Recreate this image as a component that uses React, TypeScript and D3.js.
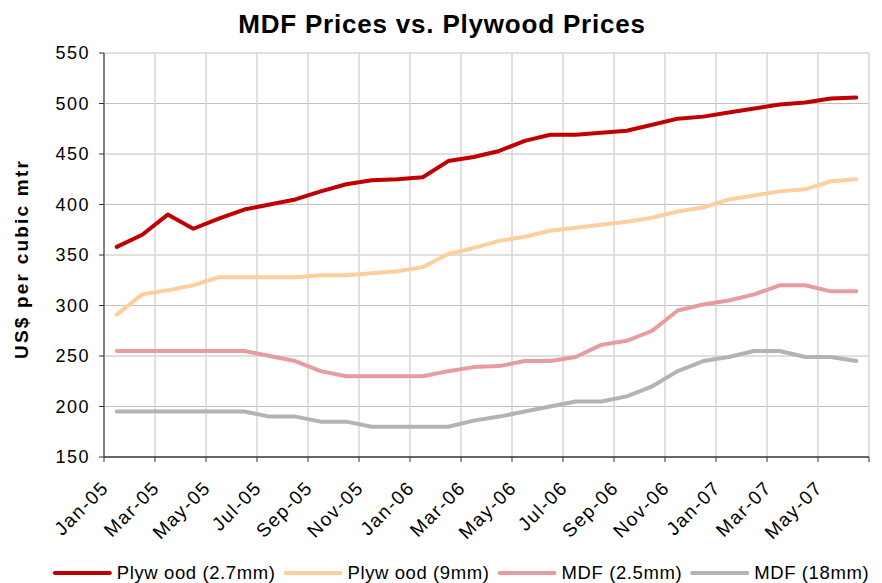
import React, { useEffect, useRef } from "react";
import * as d3 from "d3";

// monthly prices, US$ per cubic metre
const months = [
  "Jan-05", "Feb-05", "Mar-05", "Apr-05", "May-05", "Jun-05", "Jul-05", "Aug-05", "Sep-05", "Oct-05", "Nov-05", "Dec-05",
  "Jan-06", "Feb-06", "Mar-06", "Apr-06", "May-06", "Jun-06", "Jul-06", "Aug-06", "Sep-06", "Oct-06", "Nov-06", "Dec-06",
  "Jan-07", "Feb-07", "Mar-07", "Apr-07", "May-07", "Jun-07",
];
const plywood27 = [358, 370, 390, 376, 386, 395, 400, 405, 413, 420, 424, 425, 427, 443, 447, 453, 463, 469, 469, 471, 473, 479, 485, 487, 491, 495, 499, 501, 505, 506];
const plywood9 = [291, 311, 315, 320, 328, 328, 328, 328, 330, 330, 332, 334, 338, 351, 357, 364, 368, 374, 377, 380, 383, 387, 393, 397, 405, 409, 413, 415, 423, 425];
const mdf25 = [255, 255, 255, 255, 255, 255, 250, 245, 235, 230, 230, 230, 230, 235, 239, 240, 245, 245, 249, 261, 265, 275, 295, 301, 305, 311, 320, 320, 314, 314];
const mdf18 = [195, 195, 195, 195, 195, 195, 190, 190, 185, 185, 180, 180, 180, 180, 186, 190, 195, 200, 205, 205, 210, 220, 235, 245, 249, 255, 255, 249, 249, 245];
const yTicks = [150, 200, 250, 300, 350, 400, 450, 500, 550];

const seriesNames = ["Plyw ood (2.7mm)", "Plyw ood (9mm)", "MDF (2.5mm)", "MDF (18mm)"];
const seriesColors = ["#C00000", "#FCCF9F", "#E89C9F", "#B3B3B3"];
const seriesValues = [plywood27, plywood9, mdf25, mdf18];

const W = 882;
const H = 583;
const FONT = "'Liberation Sans', Arial, sans-serif";

const App = () => {
  const ref = useRef<SVGSVGElement>(null);

  useEffect(() => {
    const svg = d3.select(ref.current);
    svg.selectAll("*").remove();

    const left = 104, right = 869, top = 53, bottom = 457;

    const x = d3.scaleBand<string>().domain(months).range([left, right]).padding(0);
    const y = d3.scaleLinear().domain([150, 550]).range([bottom, top]);
    const cx = (m: string) => (x(m) as number) + x.bandwidth() / 2;

    // every second category boundary gets a grid line / tick
    const bounds = months.map((m) => x(m) as number).filter((_, i) => i % 2 === 0);
    bounds.push(right);

    const g = svg.append("g");

    // horizontal grid
    g.selectAll(".hgrid")
      .data(yTicks.filter((t) => t > 150))
      .join("line")
      .attr("x1", left).attr("x2", right)
      .attr("y1", (d) => y(d)).attr("y2", (d) => y(d))
      .attr("stroke", "#C0C0C0").attr("stroke-width", 1);

    // vertical grid
    g.selectAll(".vgrid")
      .data(bounds.slice(1))
      .join("line")
      .attr("x1", (d) => d).attr("x2", (d) => d)
      .attr("y1", top).attr("y2", bottom)
      .attr("stroke", "#D6D6D6").attr("stroke-width", 1.5);

    // y axis
    g.append("line")
      .attr("x1", left).attr("x2", left).attr("y1", top).attr("y2", bottom)
      .attr("stroke", "#808080").attr("stroke-width", 2);
    g.selectAll(".ytick")
      .data(yTicks)
      .join("line")
      .attr("x1", left - 5).attr("x2", left)
      .attr("y1", (d) => y(d)).attr("y2", (d) => y(d))
      .attr("stroke", "#333").attr("stroke-width", 1);
    g.selectAll(".ylab")
      .data(yTicks)
      .join("text")
      .attr("x", 90).attr("y", (d) => y(d))
      .attr("dy", "0.35em")
      .attr("text-anchor", "end")
      .attr("font-family", FONT).attr("font-size", 18)
      .attr("letter-spacing", 1.5)
      .attr("fill", "#000")
      .text((d) => d);

    // x axis
    g.append("line")
      .attr("x1", left).attr("x2", right).attr("y1", bottom).attr("y2", bottom)
      .attr("stroke", "#333").attr("stroke-width", 1.5);
    g.selectAll(".xtick")
      .data(bounds)
      .join("line")
      .attr("x1", (d) => d).attr("x2", (d) => d)
      .attr("y1", bottom).attr("y2", bottom + 5)
      .attr("stroke", "#333").attr("stroke-width", 1);
    g.selectAll(".xlab")
      .data(months.filter((_, i) => i % 2 === 0))
      .join("text")
      .attr("transform", (d) => `translate(${cx(d) - 7},${bottom + 32}) rotate(-45)`)
      .attr("text-anchor", "end")
      .attr("font-family", FONT).attr("font-size", 19)
      .attr("letter-spacing", 1.5)
      .attr("fill", "#000")
      .text((d) => d);

    // series
    const line = d3.line<number>()
      .x((_, i) => cx(months[i]))
      .y((d) => y(d));
    seriesValues.forEach((vals, k) => {
      g.append("path")
        .datum(vals)
        .attr("fill", "none")
        .attr("stroke", seriesColors[k])
        .attr("stroke-width", 4)
        .attr("stroke-linejoin", "round")
        .attr("stroke-linecap", "round")
        .attr("d", line);
    });

    // title
    svg.append("text")
      .attr("x", 442).attr("y", 33)
      .attr("text-anchor", "middle")
      .attr("font-family", FONT).attr("font-size", 26).attr("font-weight", "bold")
      .attr("letter-spacing", 0.8)
      .text("MDF Prices vs. Plywood Prices");

    // y title
    svg.append("text")
      .attr("transform", `translate(28,259) rotate(-90)`)
      .attr("text-anchor", "middle")
      .attr("font-family", FONT).attr("font-size", 19).attr("font-weight", "bold")
      .attr("letter-spacing", 2.2)
      .text("US$ per cubic mtr");

    // legend, laid out left to right and centred
    const leg = svg.append("g");
    const ly = 573;
    const gap = 10;
    let cur = 0;
    const items = seriesNames.map((name, k) => {
      const it = leg.append("g");
      it.append("line")
        .attr("x1", 0).attr("x2", 55).attr("y1", 0).attr("y2", 0)
        .attr("stroke", seriesColors[k]).attr("stroke-width", 4).attr("stroke-linecap", "round");
      const t = it.append("text")
        .attr("x", 62).attr("dy", "0.35em")
        .attr("font-family", FONT).attr("font-size", 18.5)
        .attr("letter-spacing", 0.6)
        .text(name);
      const w = 62 + (t.node() as SVGTextElement).getComputedTextLength();
      const item = { it, pos: cur };
      cur += w + gap;
      return item;
    });
    const total = cur - gap;
    const start = 462 - total / 2;
    items.forEach(({ it, pos }) => it.attr("transform", `translate(${start + pos},${ly})`));
  }, []);

  return (
    <div style={{ position: "absolute", left: 0, top: 0, width: W, height: H, background: "#fff" }}>
      <svg ref={ref} width={W} height={H}></svg>
    </div>
  );
};

export default App;
